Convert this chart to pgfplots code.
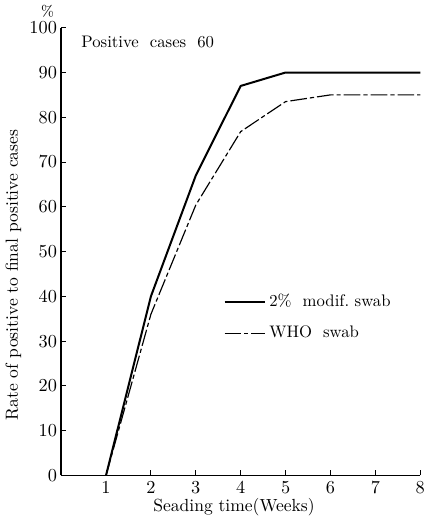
\documentclass[border=0pt]{standalone}
\usepackage{pgfplots}
\pgfplotsset{compat=1.18}

\begin{document}
\begin{tikzpicture}
\begin{axis}[
    scale only axis,
    width=215pt,
    height=268pt,
    xmin=0, xmax=8,
    ymin=0, ymax=100,
    axis x line*=bottom,
    axis y line*=left,
    axis line style={line width=0.9pt},
    tick align=inside,
    major tick length=3pt,
    tick style={black, line width=0.6pt},
    xtick={1,...,8},
    ytick={0,10,...,100},
    ticklabel style={font=\fontsize{11}{13}\selectfont},
    yticklabel style={xshift=1pt},
    xlabel={Seading\ time(Weeks)},
    ylabel={Rate\ of\ positive\ to\ final\ positive\ cases},
    label style={font=\fontsize{10.5}{12}\selectfont},
    xlabel style={yshift=4pt, xshift=-4pt},
    ylabel style={yshift=-2pt, xshift=-14pt},
    clip=false,
    legend style={draw=none, fill=none, at={(axis cs:3.5,42)}, anchor=north west,
        row sep=6pt, font=\normalsize},
    legend cell align=left,
    legend image code/.code={\draw[#1] (0cm,0cm) -- (0.85cm,0cm);},
]
\addplot[black, line width=1.2pt] coordinates {
    (1,0) (2,40) (3,67) (4,87) (5,90) (6,90) (7,90) (8,90)
};
\addlegendentry{2\%\ \ modif.\ swab}
\addplot[black, line width=0.7pt, dash pattern=on 10pt off 1.8pt on 2.5pt off 1.8pt] coordinates {
    (1,0) (2,36) (3,60.4) (4,76.8) (5,83.5) (6,85) (7,85) (8,85)
};
\addlegendentry{WHO\ \ swab}
\node[anchor=west, font=\normalsize] at (axis cs:0.32,96.8) {Positive\ \ cases\ \ 60};
\node[font=\small] at (axis cs:-0.3,103.6) {\%};
\end{axis}
\end{tikzpicture}
\end{document}
